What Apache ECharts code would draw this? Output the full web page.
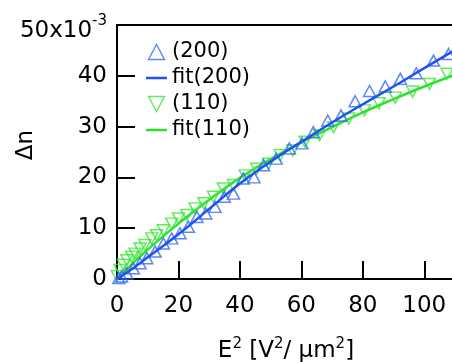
<!DOCTYPE html>
<html>
<head>
<meta charset="utf-8">
<script src="https://cdn.jsdelivr.net/npm/echarts@6/dist/echarts.min.js"></script>
<style>
  html, body { margin: 0; padding: 0; background: #fff; }
  #chart { width: 452px; height: 362px; }
</style>
</head>
<body>
<div id="chart"></div>
<script>
// (200) measured points  [E^2, dn x1e-3]
const x200 = [0.6, 1.5, 3.2, 5.3, 7.5, 9.7, 12.4, 15.1, 17.8, 20.5, 23.2, 26.0, 28.9, 31.9, 34.9, 37.9,
  41.1, 44.6, 47.7, 51.8, 56.1, 60.2, 63.9, 68.6, 72.9, 77.5, 82.2, 87.3, 92.2, 97.4, 103.0, 107.9]
const y200 = [0.2, 0.5, 1.1, 2.1, 3.1, 4.1, 5.4, 7.0, 8.0, 9.0, 10.3, 12.2, 12.9, 14.2, 16.2, 16.8,
  19.8, 20.0, 22.4, 23.7, 25.7, 26.7, 28.9, 31.2, 32.2, 35.0, 37.0, 37.9, 39.4, 40.5, 43.0, 44.3]
// (110) measured points
const x110 = [0.1, 1.0, 2.1, 3.2, 4.8, 5.9, 7.5, 9.1, 11.3, 12.9, 15.1, 17.8, 20.0, 22.7, 25.4, 28.3,
  31.4, 34.6, 37.9, 41.7, 45.5, 49.3, 53.1, 57.2, 61.2, 65.9, 70.5, 75.4, 80.5, 85.3, 90.6, 96.2, 101.7, 107.4]
const y110 = [0.6, 1.8, 2.8, 3.7, 4.4, 5.0, 6.0, 6.7, 8.0, 8.6, 9.6, 10.9, 11.9, 12.6, 13.9, 14.9,
  16.2, 17.8, 18.5, 20.4, 21.7, 22.7, 24.4, 25.3, 27.0, 28.3, 29.9, 31.6, 33.2, 34.6, 35.7, 36.9, 38.4, 40.4]
// fit curves
const fitX = [0, 5, 10, 20, 30, 40, 50, 60, 70, 80, 90, 100, 110]
const fit200 = [0, 2.0, 4.3, 8.8, 13.8, 18.8, 23.1, 27.0, 30.8, 34.4, 37.9, 41.5, 45.1]
const fit110 = [0, 3.0, 5.8, 10.9, 15.6, 19.9, 23.6, 26.9, 29.9, 32.8, 35.4, 37.9, 40.2]
const yTicks = [0, 10, 20, 30, 40, 50]

const FONT = 'DejaVu Sans'
const BLUE = '#1f52f0'
const BLUE_M = '#3566f5'
const GREEN = '#2fe02f'
const GREEN_M = '#38e638'
const LINE_ICON = 'path://M0,0 L21,0 L21,2.5 L0,2.5 Z'

function pairs(xs, ys) {
    return xs.map((x, i) => [x, ys[i]])
}

let chart = echarts.init(document.getElementById('chart'))

let option = {
    backgroundColor: '#fff',
    animation: false,
    grid: {
        left: 117, top: 25, right: -3, bottom: 83,
        outerBoundsMode: 'none',
        containLabel: false,
        show: true, borderColor: '#000', borderWidth: 2, backgroundColor: 'transparent'
    },
    legend: {
        orient: 'vertical',
        left: 141,
        top: 36,
        itemWidth: 21,
        itemHeight: 15,
        itemGap: 4,
        textStyle: { fontFamily: FONT, fontSize: 21, color: '#000', lineHeight: 22 },
        data: [
            { name: '(200)', icon: 'path://M8,0 L16,15 L0,15 Z',
              itemStyle: { color: 'rgba(0,0,0,0)', borderColor: BLUE_M, borderWidth: 1.4 } },
            { name: 'fit(200)', icon: LINE_ICON,
              itemStyle: { color: BLUE, borderWidth: 0 } },
            { name: '(110)', icon: 'path://M0,0 L16,0 L8,15 Z',
              itemStyle: { color: 'rgba(0,0,0,0)', borderColor: GREEN_M, borderWidth: 1.4 } },
            { name: 'fit(110)', icon: LINE_ICON,
              itemStyle: { color: GREEN, borderWidth: 0 } }
        ]
    },
    xAxis: {
        type: 'value',
        min: 0, max: 110, interval: 20,
        name: '{a|E}{s|2}{a| [V}{s|2}{a|/ µm}{s|2}{a|]}',
        nameLocation: 'middle',
        nameGap: 58,
        nameMoveOverlap: false,
        nameTextStyle: {
            rich: {
                a: { fontFamily: FONT, fontSize: 23, color: '#000' },
                s: { fontFamily: FONT, fontSize: 15, color: '#000', padding: [0, 0, 14, 0] }
            }
        },
        axisLine: { lineStyle: { color: '#000', width: 2 } },
        axisTick: { inside: true, length: 18, lineStyle: { color: '#000', width: 2 } },
        axisLabel: {
            margin: 16, fontFamily: FONT, fontSize: 23, color: '#000',
            showMaxLabel: false
        },
        splitLine: { show: false }
    },
    yAxis: {
        type: 'value',
        min: 0, max: 50, interval: 10,
        name: 'Δn',
        nameLocation: 'middle',
        nameGap: 79,
        nameMoveOverlap: false,
        nameTextStyle: { fontFamily: FONT, fontSize: 23, color: '#000', padding: [0, 0, 0, 14] },
        axisLine: { lineStyle: { color: '#000', width: 2 } },
        axisTick: { inside: true, length: 18, lineStyle: { color: '#000', width: 2 } },
        axisLabel: {
            margin: 10, fontFamily: FONT, fontSize: 23, color: '#000',
            formatter: function (v) {
                if (v === yTicks[yTicks.length - 1]) {
                    return '{a|' + v + 'x10}{b|-3}'
                }
                return '' + v
            },
            rich: {
                a: { fontFamily: FONT, fontSize: 23, color: '#000', padding: [12, 0, 0, 0] },
                b: { fontFamily: FONT, fontSize: 15, color: '#000', padding: [0, 0, 8, 0] }
            }
        },
        splitLine: { show: false }
    },
    series: [
        {
            name: '(200)',
            type: 'scatter',
            symbol: 'triangle',
            symbolSize: [12, 11],
            itemStyle: { color: 'rgba(0,0,0,0)', borderColor: BLUE_M, borderWidth: 1.5 },
            z: 3,
            data: pairs(x200, y200)
        },
        {
            name: 'fit(200)',
            type: 'line',
            symbol: 'none',
            smooth: true,
            lineStyle: { color: BLUE, width: 2.5 },
            itemStyle: { color: BLUE },
            z: 4,
            data: pairs(fitX, fit200)
        },
        {
            name: '(110)',
            type: 'scatter',
            symbol: 'triangle',
            symbolRotate: 180,
            symbolSize: [12, 11],
            itemStyle: { color: 'rgba(0,0,0,0)', borderColor: GREEN_M, borderWidth: 1.5 },
            z: 2,
            data: pairs(x110, y110)
        },
        {
            name: 'fit(110)',
            type: 'line',
            symbol: 'none',
            smooth: true,
            lineStyle: { color: GREEN, width: 2.5 },
            itemStyle: { color: GREEN },
            z: 2,
            data: pairs(fitX, fit110)
        }
    ]
}

chart.setOption(option)
</script>
</body>
</html>
